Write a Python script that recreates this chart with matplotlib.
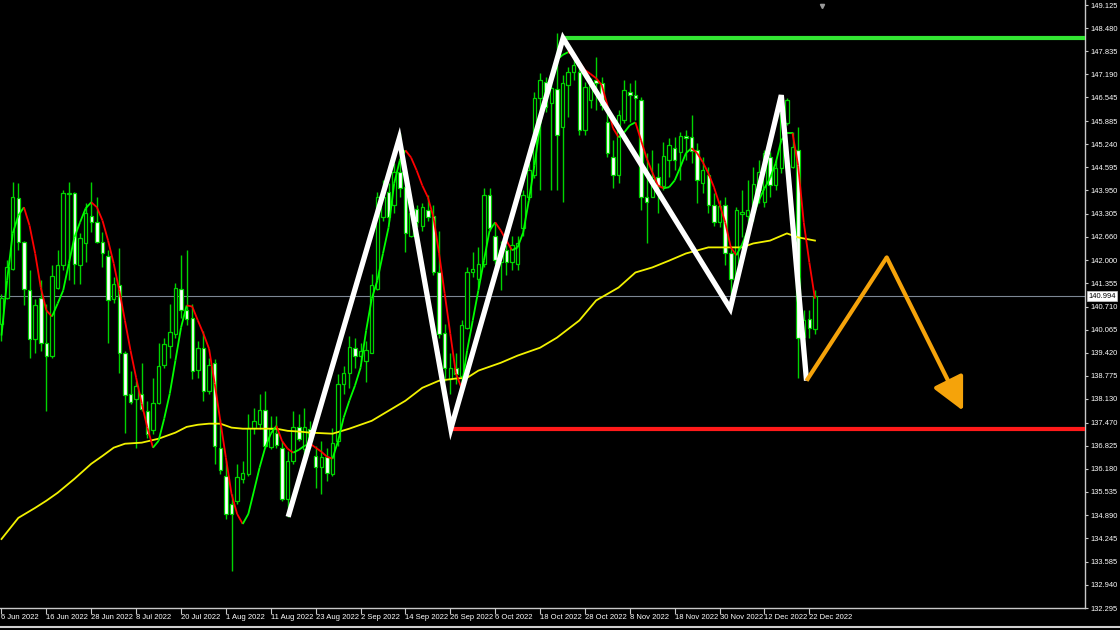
import matplotlib
matplotlib.use("Agg")
import matplotlib.pyplot as plt
from matplotlib.collections import LineCollection
from matplotlib.lines import Line2D
import matplotlib.transforms as mtransforms
import numpy as np

# ---------------- data (daily candles) -------------
opens = [140.23, 140.96, 141.77, 143.73, 142.50, 141.18, 139.79, 140.96, 139.68, 139.34,
         141.24, 141.86, 143.84, 143.87, 141.86, 142.47, 143.25, 143.06, 142.50, 142.11,
         140.93, 141.30, 139.40, 138.28, 138.14, 138.28, 137.80, 137.27, 138.03, 139.09,
         139.62, 139.95, 141.21, 140.62, 140.40, 138.95, 139.56, 138.36, 139.14, 136.77,
         135.98, 135.20, 135.29, 135.90, 136.04, 137.33, 137.44, 137.83, 136.79, 137.19,
         136.77, 135.34, 136.40, 137.35, 136.74, 137.30, 136.54, 136.23, 136.51, 136.04,
         136.96, 138.56, 138.86, 139.56, 139.34, 139.20, 139.42, 141.21, 143.20, 143.90,
         143.53, 144.46, 144.04, 142.69, 143.42, 142.97, 143.39, 143.25, 141.66, 139.98,
         138.70, 138.98, 138.78, 140.12, 141.66, 141.47, 141.91, 143.81, 142.69, 141.94,
         142.28, 141.94, 141.91, 142.89, 143.76, 144.37, 146.52, 146.97, 146.38, 146.78,
         145.72, 146.89, 147.25, 147.25, 145.63, 146.47, 147.03, 146.94, 145.85, 144.87,
         144.37, 145.91, 146.69, 146.61, 146.47, 143.78, 143.78, 144.32, 144.06, 144.79,
         145.13, 145.02, 145.46, 145.44, 145.07, 144.15, 144.37, 143.53, 143.06, 143.53,
         142.19, 141.49, 143.28, 143.23, 143.34, 143.95, 143.62, 144.87, 144.09, 144.57,
         145.83, 144.60, 145.07, 139.87, 140.35, 140.09]
highs = [141.07, 142.00, 144.18, 144.15, 142.55, 141.72, 140.93, 141.44, 140.79, 141.86,
         142.28, 143.95, 144.18, 143.90, 142.75, 143.59, 144.18, 143.76, 142.78, 142.28,
         141.52, 142.33, 139.48, 138.92, 138.64, 139.12, 138.08, 138.72, 139.70, 139.82,
         140.79, 141.38, 142.14, 142.28, 140.79, 139.76, 140.04, 139.28, 139.25, 137.58,
         136.40, 135.48, 136.32, 136.40, 137.72, 137.89, 138.28, 138.36, 137.66, 137.66,
         136.96, 136.68, 137.80, 137.72, 137.89, 137.52, 136.82, 136.96, 136.77, 137.33,
         138.84, 139.06, 139.90, 139.84, 139.68, 139.76, 141.63, 143.90, 144.23, 144.15,
         144.71, 145.55, 144.23, 143.48, 143.53, 143.59, 143.81, 143.53, 142.83, 140.23,
         139.40, 139.40, 140.32, 141.80, 142.22, 142.36, 144.01, 144.01, 143.06, 142.55,
         142.42, 142.69, 142.69, 143.95, 144.71, 146.69, 147.22, 147.11, 147.03, 148.34,
         147.17, 147.39, 147.64, 147.53, 146.97, 147.08, 147.67, 147.11, 146.19, 145.35,
         146.19, 147.03, 146.94, 147.03, 146.55, 144.99, 145.07, 144.71, 145.30, 145.41,
         145.44, 145.57, 145.63, 146.05, 145.27, 144.87, 144.60, 143.87, 143.67, 143.76,
         142.36, 143.48, 143.95, 144.23, 144.60, 144.79, 145.07, 145.02, 144.79, 146.58,
         146.53, 145.57, 145.72, 140.60, 140.60, 141.16]
lows = [139.76, 140.93, 141.72, 142.28, 140.74, 139.28, 139.40, 139.48, 137.80, 139.28,
        141.21, 141.72, 141.44, 141.35, 141.35, 141.94, 142.78, 142.47, 141.80, 139.70,
        140.82, 138.86, 137.19, 137.98, 136.77, 137.80, 137.05, 137.16, 137.98, 139.00,
        139.28, 139.82, 140.40, 140.18, 138.70, 138.72, 138.08, 138.28, 136.32, 136.04,
        134.78, 133.33, 135.20, 135.79, 135.98, 137.16, 137.30, 136.77, 136.74, 136.77,
        135.29, 134.84, 136.32, 136.96, 136.40, 136.77, 135.65, 135.48, 135.84, 135.98,
        136.82, 138.28, 138.44, 139.00, 139.20, 138.59, 139.40, 141.16, 143.11, 143.11,
        143.31, 143.76, 142.22, 142.64, 142.92, 142.83, 143.11, 141.58, 139.84, 138.64,
        138.28, 138.56, 138.64, 140.09, 141.52, 141.24, 141.80, 142.83, 141.91, 141.16,
        141.58, 141.72, 141.72, 142.69, 143.67, 144.29, 143.95, 146.13, 143.95, 143.95,
        143.62, 145.99, 147.03, 145.49, 145.49, 146.24, 146.19, 146.19, 144.87, 144.01,
        144.15, 145.83, 145.85, 145.91, 143.39, 142.47, 143.76, 143.31, 143.95, 144.32,
        144.51, 144.23, 144.79, 144.71, 143.59, 143.87, 143.31, 142.97, 142.92, 141.86,
        140.96, 141.44, 142.64, 142.92, 143.11, 143.59, 143.48, 143.76, 143.95, 144.43,
        145.77, 144.57, 138.72, 139.62, 139.84, 139.95]
closes = [140.96, 141.80, 143.76, 142.50, 141.21, 139.79, 140.74, 139.68, 139.34, 141.55,
          141.86, 143.87, 143.87, 141.91, 142.61, 143.31, 143.06, 142.50, 142.19, 140.90,
          141.35, 139.40, 138.25, 138.05, 138.50, 137.86, 137.16, 138.03, 139.06, 139.65,
          140.01, 141.24, 140.60, 140.35, 138.92, 139.56, 138.36, 139.09, 136.82, 136.15,
          134.92, 134.92, 135.96, 136.07, 137.33, 137.52, 137.83, 136.82, 137.30, 136.85,
          135.34, 136.40, 137.35, 137.02, 137.35, 136.96, 136.23, 136.51, 136.07, 136.91,
          138.56, 138.86, 139.59, 139.34, 139.48, 139.51, 141.32, 143.76, 143.76, 143.20,
          144.46, 144.01, 142.75, 143.31, 143.06, 143.48, 143.20, 141.66, 139.95, 138.98,
          139.00, 138.84, 140.18, 141.66, 141.77, 141.91, 143.81, 142.89, 142.00, 142.28,
          141.94, 142.42, 142.47, 143.81, 144.51, 146.52, 147.03, 146.27, 146.80, 145.49,
          146.94, 147.25, 147.45, 145.63, 146.83, 146.89, 146.94, 146.33, 144.99, 144.37,
          146.05, 146.75, 146.61, 146.52, 143.76, 143.62, 144.32, 144.06, 144.90, 145.21,
          144.79, 145.46, 145.41, 145.04, 144.23, 144.51, 143.53, 143.06, 143.51, 142.19,
          141.49, 143.39, 143.34, 143.39, 144.12, 144.46, 144.99, 144.09, 144.57, 146.11,
          146.47, 145.16, 139.82, 140.32, 140.12, 140.994]

# fast moving average (coloured by slope), one value per bar
ma_fast = [139.90, 141.44, 142.75, 143.25, 143.48, 142.97, 142.19, 141.24, 140.60, 140.43,
           140.79, 141.16, 141.91, 142.64, 143.06, 143.45, 143.62, 143.48, 143.11, 142.55,
           141.91, 141.16, 140.32, 139.48, 138.72, 138.00, 137.33, 136.77, 136.96, 137.58,
           138.28, 139.20, 140.12, 140.74, 140.71, 140.32, 139.95, 139.53, 138.56, 137.52,
           136.49, 135.48, 134.92, 134.64, 134.92, 135.56, 136.21, 136.77, 137.16, 137.38,
           136.96, 136.74, 136.63, 136.71, 136.82, 136.88, 136.77, 136.66, 136.52, 136.46,
           136.96, 137.61, 138.08, 138.50, 139.00, 140.04, 140.93, 141.44, 142.19, 142.92,
           144.15, 144.79, 145.07, 144.87, 144.51, 144.09, 143.76, 143.20, 142.19, 141.07,
           139.95, 138.84, 138.44, 139.48, 140.32, 141.16, 142.00, 142.83, 143.06, 142.83,
           142.55, 142.28, 142.36, 142.78, 143.67, 144.65, 145.77, 146.61, 147.17, 147.59,
           147.73, 147.81, 147.73, 147.53, 147.31, 147.20, 147.08, 146.89, 146.33, 145.69,
           145.43, 145.57, 145.77, 145.85, 145.35, 144.85, 144.46, 144.09, 144.01, 144.04,
           144.23, 144.60, 144.99, 145.13, 144.99, 144.74, 144.43, 144.04, 143.56, 143.06,
           142.36, 142.14, 142.44, 142.83, 143.25, 143.67, 144.01, 144.29, 144.71, 145.35,
           145.55, 145.55, 144.65, 143.06, 141.94, 140.93]

# slow moving average, read at sampled bars
ma_slow_idx = [0, 3, 6, 8, 10, 13, 16, 18, 20, 22, 25, 28, 31, 33, 35, 37, 39, 41, 43, 46,
               49, 51, 53, 55, 59, 62, 66, 69, 72, 75, 78, 81, 83, 85, 89, 92, 96, 99, 103,
               106, 110, 113, 116, 119, 122, 126, 129, 132, 134, 137, 140, 142, 145]
ma_slow = [134.22, 134.81, 135.09, 135.29, 135.51, 135.90, 136.32, 136.54, 136.77, 136.88,
           136.91, 137.02, 137.19, 137.35, 137.41, 137.44, 137.44, 137.33, 137.30, 137.30,
           137.30, 137.24, 137.22, 137.19, 137.16, 137.30, 137.52, 137.80, 138.08, 138.44,
           138.64, 138.70, 138.72, 138.92, 139.14, 139.34, 139.56, 139.84, 140.32, 140.88,
           141.24, 141.66, 141.80, 141.99, 142.19, 142.36, 142.36, 142.36, 142.47, 142.55,
           142.75, 142.64, 142.55]

current_price = 140.994

# drawn pattern (bar index, price)
zigzag_idx = [51.1, 70.9, 80.1, 100.1, 129.9, 139.0, 143.5]
zigzag_val = [134.84, 145.40, 137.30, 148.20, 140.65, 146.61, 138.64]
projection_idx = [143.5, 157.8, 171.4]
projection_val = [138.64, 142.08, 137.80]
resistance_level = 148.20
resistance_start = 100.1
support_level = 137.30
support_start = 80.1

price_ticks = [149.125, 148.480, 147.835, 147.190, 146.545, 145.885, 145.240, 144.595,
               143.950, 143.305, 142.660, 142.000, 141.355, 140.710, 140.065, 139.420,
               138.775, 138.130, 137.470, 136.825, 136.180, 135.535, 134.890, 134.245,
               133.585, 132.940, 132.295]
date_labels = ["6 Jun 2022", "16 Jun 2022", "28 Jun 2022", "8 Jul 2022", "20 Jul 2022",
               "1 Aug 2022", "11 Aug 2022", "23 Aug 2022", "2 Sep 2022", "14 Sep 2022",
               "26 Sep 2022", "6 Oct 2022", "18 Oct 2022", "28 Oct 2022", "8 Nov 2022",
               "18 Nov 2022", "30 Nov 2022", "12 Dec 2022", "22 Dec 2022"]
date_positions = list(range(0, 145, 8))

# ---------------- drawing ----------------
plt.rcParams["font.family"] = ["Liberation Sans", "DejaVu Sans"]
W, H = 1120, 630
fig = plt.figure(figsize=(W / 100, H / 100), dpi=100, facecolor="black")
ax_w, ax_h = 1085, 608
ax = fig.add_axes([0, 1 - ax_h / H, ax_w / W, ax_h / H], facecolor="black")

px_per_bar, first_px = 5.61, 1.5
ax.set_xlim(-first_px / px_per_bar, (ax_w - first_px) / px_per_bar)
ax.set_ylim(132.295, 149.265)

idx = np.arange(len(closes))
o = np.array(opens); c = np.array(closes)
hi = np.array(highs); lo = np.array(lows)

candle_green = "#00d400"
ax.axhline(current_price, color="#7d8794", lw=0.8, zorder=1)

ax.vlines(idx, lo, hi, color=candle_green, lw=1.0, zorder=2)
bull = c >= o
ax.bar(idx[bull], (c - o)[bull], bottom=o[bull], width=0.62, color="black",
       edgecolor=candle_green, linewidth=0.9, zorder=3)
ax.bar(idx[~bull], (o - c)[~bull], bottom=c[~bull], width=0.62, color="white",
       edgecolor=candle_green, linewidth=0.9, zorder=3)

# slow MA
ax.plot(ma_slow_idx, ma_slow, color="#f2f200", lw=1.3, zorder=4)

# fast MA coloured by slope
mf = np.array(ma_fast)
pts = np.column_stack([idx, mf])
segs = np.stack([pts[:-1], pts[1:]], axis=1)
cols = ["#00ff00" if mf[i + 1] >= mf[i] else "#ff0000" for i in range(len(mf) - 1)]
ax.add_collection(LineCollection(segs, colors=cols, linewidths=1.3, zorder=5))

# support / resistance
x0, x1 = ax.get_xlim()
ax.hlines(resistance_level, resistance_start, x1, color="#33e633", lw=3.0, zorder=6)
ax.hlines(support_level, support_start, x1, color="#ff1a1a", lw=3.0, zorder=6)

# zigzag
ax.plot(zigzag_idx, zigzag_val, color="white", lw=3.8, solid_joinstyle="miter",
        solid_capstyle="butt", zorder=7)

# projection arrow
orange = "#f5a30a"
ax.plot(projection_idx[:2], projection_val[:2], color=orange, lw=3.0,
        solid_capstyle="butt", zorder=7)
ax.annotate("", xy=(projection_idx[2], projection_val[2]),
            xytext=(projection_idx[1], projection_val[1]),
            arrowprops=dict(arrowstyle="-|>,head_length=1.0,head_width=0.5",
                            color=orange, lw=3.0, mutation_scale=20,
                            shrinkA=0, shrinkB=0), zorder=7)

# axes styling
for s in ["top", "left"]:
    ax.spines[s].set_visible(False)
for s in ["right", "bottom"]:
    ax.spines[s].set_color("#c8c8c8")
    ax.spines[s].set_linewidth(1.0)

ax.yaxis.tick_right()
ax.set_yticks(price_ticks)
ax.set_yticklabels([f"{v:.3f}" for v in price_ticks])
ax.tick_params(axis="y", colors="#c8c8c8", labelcolor="white", labelsize=5.4,
               length=2.5, width=0.8, direction="out", pad=1.5)
ax.set_xticks(date_positions)
ax.set_xticklabels(date_labels)
ax.tick_params(axis="x", colors="#c8c8c8", labelcolor="white", labelsize=5.5,
               length=4, width=0.8, direction="out", pad=0.5)
for lbl in ax.get_xticklabels():
    lbl.set_horizontalalignment("left")

# current price tag on the scale
trans = mtransforms.blended_transform_factory(ax.transAxes, ax.transData)
ax.text(1.003, current_price, f"{current_price:.3f}", transform=trans, ha="left",
        va="center", fontsize=5.4, color="black", zorder=10, clip_on=False,
        bbox=dict(facecolor="white", edgecolor="#c8c8c8", pad=1.0, linewidth=0.5))

# chart-shift marker and window border
ax.plot([0.7576], [0.99], marker="v", ms=3, color="#9a9a9a", transform=ax.transAxes,
        clip_on=False, zorder=10)
fig.add_artist(Line2D([0, 1], [3 / H, 3 / H], color="#d0d0d0", lw=1.5))

fig.savefig("out.png", dpi=100, facecolor="black")
